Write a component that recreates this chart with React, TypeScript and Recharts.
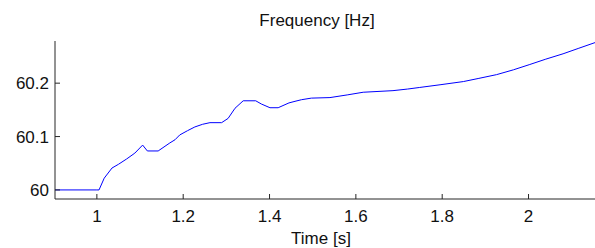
import { LineChart, Line, XAxis, YAxis, Label } from "recharts";

const time = [
  0.903, 1.0, 1.005, 1.017, 1.035, 1.05, 1.069, 1.088, 1.106, 1.117, 1.142, 1.169, 1.181, 1.192,
  1.21, 1.227, 1.245, 1.262, 1.289, 1.304, 1.32, 1.339, 1.368, 1.381, 1.401, 1.42, 1.445, 1.459,
  1.474, 1.497, 1.54, 1.58, 1.617, 1.686, 1.72, 1.748, 1.795, 1.849, 1.885, 1.926, 1.965, 2.003,
  2.04, 2.08, 2.115, 2.154,
];
const freq = [
  60.0, 60.0, 60.0, 60.022, 60.041, 60.048, 60.058, 60.069, 60.084, 60.073, 60.073, 60.088, 60.094,
  60.103, 60.111, 60.118, 60.123, 60.126, 60.126, 60.134, 60.153, 60.167, 60.167, 60.161, 60.154,
  60.154, 60.163, 60.166, 60.169, 60.172, 60.173, 60.178, 60.183, 60.186, 60.189, 60.192, 60.197,
  60.203, 60.209, 60.216, 60.225, 60.235, 60.245, 60.255, 60.265, 60.276,
];
const xTicks = [1, 1.2, 1.4, 1.6, 1.8, 2];
const yTicks = [60, 60.1, 60.2];

const data = time.map((t, i) => ({ t, f: freq[i] }));

const font = "'Liberation Sans', Arial, sans-serif";
const axisColor = "#262626";

export default function App() {
  return (
    <div style={{ position: "absolute", left: 0, top: 0, width: 595, height: 248, background: "#fff", fontFamily: font }}>
      <div
        style={{
          position: "absolute", left: 167, top: 11, width: 300, textAlign: "center",
          fontSize: 17, color: "#111", lineHeight: "normal",
        }}
      >
        Frequency [Hz]
      </div>
      <LineChart width={595} height={248} data={data} margin={{ top: 41, right: 0, left: 0, bottom: 0 }}>
        <XAxis
          dataKey="t"
          type="number"
          domain={[0.903, 2.154]}
          allowDataOverflow
          ticks={xTicks}
          height={49}
          stroke={axisColor}
          tickSize={-5}
          tickMargin={16}
          tick={{ fontSize: 17, fill: "#111", fontFamily: font }}
        >
          <Label value="Time [s]" position="insideBottom" offset={4} dx={-4} style={{ fontSize: 17, fill: "#111", fontFamily: font }} />
        </XAxis>
        <YAxis
          type="number"
          domain={[59.983, 60.279]}
          allowDataOverflow
          ticks={yTicks}
          width={55}
          stroke={axisColor}
          tickSize={-5}
          tickMargin={11}
          tick={{ fontSize: 17, fill: "#111", fontFamily: font }}
        />
        <Line type="linear" dataKey="f" stroke="#0000ff" strokeWidth={1} dot={false} isAnimationActive={false} />
      </LineChart>
    </div>
  );
}
